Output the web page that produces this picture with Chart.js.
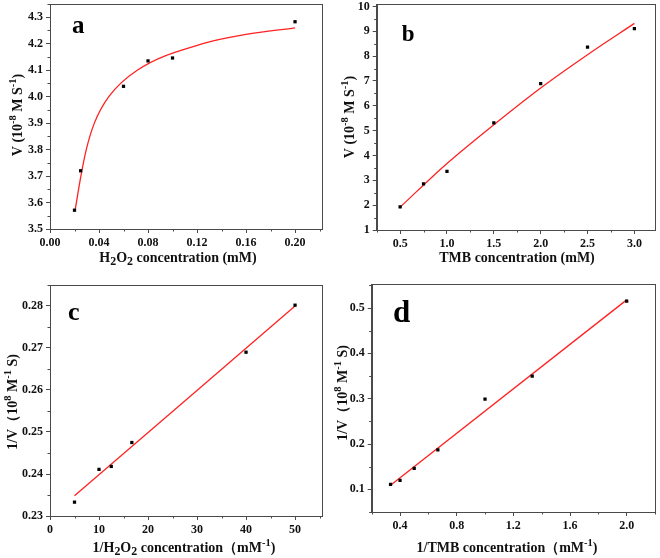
<!DOCTYPE html>
<html>
<head>
<meta charset="utf-8">
<script src="https://cdn.jsdelivr.net/npm/chart.js@4.4.1/dist/chart.umd.min.js"></script>
<style>
  body { margin: 0; background: #fff; }
  #fig { position: relative; width: 660px; height: 558px; }
  canvas { position: absolute; }
</style>
</head>
<body>
<div id="fig">
  <canvas id="pa" width="330" height="280" style="left:0;top:0"></canvas>
  <canvas id="pb" width="330" height="280" style="left:330px;top:0"></canvas>
  <canvas id="pc" width="330" height="278" style="left:0;top:280px"></canvas>
  <canvas id="pd" width="330" height="278" style="left:330px;top:280px"></canvas>
</div>
<script>
// a: rate vs H2O2
const aX = [ 0.02, 0.025, 0.06, 0.08, 0.10, 0.20 ]
const aV = [ 3.571, 3.72, 4.039, 4.135, 4.146, 4.283 ]
const aFitX = [ 0.0205, 0.0252, 0.0296, 0.0362, 0.048, 0.0712, 0.1247, 0.16, 0.20 ]
const aFitV = [ 3.571, 3.70, 3.80, 3.90, 4.00, 4.10, 4.20, 4.235, 4.26 ]
const aXLabels = [ '0.00', '0.04', '0.08', '0.12', '0.16', '0.20' ]
const aYLabels = [ '3.5', '3.6', '3.7', '3.8', '3.9', '4.0', '4.1', '4.2', '4.3' ]

// b: rate vs TMB
const bX = [ 0.5, 0.75, 1.0, 1.5, 2.0, 2.5, 3.0 ]
const bV = [ 1.93, 2.86, 3.36, 5.31, 6.89, 8.36, 9.11 ]
const bFitX = [ 0.5, 1.0, 1.5, 2.0, 2.5, 3.0 ]
const bFitV = [ 1.92, 3.68, 5.24, 6.72, 8.06, 9.32 ]
const bXLabels = [ '0.5', '1.0', '1.5', '2.0', '2.5', '3.0' ]
const bYLabels = [ '1', '2', '3', '4', '5', '6', '7', '8', '9', '10' ]

// c: double reciprocal H2O2
const cX = [ 5, 10, 12.5, 16.7, 40, 50 ]
const cV = [ 0.2333, 0.2411, 0.2418, 0.2475, 0.269, 0.2802 ]
const cFitX = [ 5, 50 ]
const cFitV = [ 0.2348, 0.2800 ]
const cXLabels = [ '0', '10', '20', '30', '40', '50' ]
const cYLabels = [ '0.23', '0.24', '0.25', '0.26', '0.27', '0.28' ]

// d: double reciprocal TMB
const dX = [ 0.333, 0.4, 0.5, 0.667, 1.0, 1.333, 2.0 ]
const dV = [ 0.111, 0.120, 0.146, 0.187, 0.299, 0.350, 0.515 ]
const dFitX = [ 0.333, 2.0 ]
const dFitV = [ 0.109, 0.518 ]
const dXLabels = [ '0.4', '0.8', '1.2', '1.6', '2.0' ]
const dYLabels = [ '0.1', '0.2', '0.3', '0.4', '0.5' ]

const axisColor = '#4a4a4a'
const serif = '"Liberation Serif", "Times New Roman", serif'

const panels = {
  pa: {
    letter: 'a', letterPos: [ 72, 32.5 ], letterSize: 25,
    box: { left: 50, top: 3, right: 322, bottom: 229 },
    xRange: [ 0, 0.222 ], yRange: [ 3.5, 4.35 ], xMinor: 0.02, yMinor: 0.05,
    xTitle: [ [ 'H', 'n' ], [ '2', 'sub' ], [ 'O', 'n' ], [ '2', 'sub' ], [ ' concentration (mM)', 'n' ] ],
    yTitle: [ [ 'V (10', 'n' ], [ '-8', 'sup' ], [ ' M S', 'n' ], [ '-1', 'sup' ], [ ')', 'n' ] ],
    xTitlePos: [ 178, 257 ], yTitlePos: [ 17, 115 ]
  },
  pb: {
    letter: 'b', letterPos: [ 71.7, 40.7 ], letterSize: 23,
    box: { left: 46.7, top: 2, right: 325, bottom: 230 },
    xRange: [ 0.25, 3.22 ], yRange: [ 1, 10.1 ], xMinor: 0.25, yMinor: 0.5,
    xTitle: [ [ 'TMB concentration (mM)', 'n' ] ],
    yTitle: [ [ 'V (10', 'n' ], [ '-8', 'sup' ], [ ' M S', 'n' ], [ '-1', 'sup' ], [ ')', 'n' ] ],
    xTitlePos: [ 187, 257 ], yTitlePos: [ 19, 117 ]
  },
  pc: {
    letter: 'c', letterPos: [ 68, 40 ], letterSize: 26,
    box: { left: 50, top: 5, right: 322, bottom: 236 },
    xRange: [ 0, 55.5 ], yRange: [ 0.23, 0.285 ], xMinor: 5, yMinor: 0.005,
    xTitle: [ [ '1/H', 'n' ], [ '2', 'sub' ], [ 'O', 'n' ], [ '2', 'sub' ], [ ' concentration\uFF08mM', 'n' ], [ '-1', 'sup' ], [ ')', 'n' ] ],
    yTitle: [ [ '1/V\uFF0810', 'n' ], [ '8', 'sup' ], [ ' M', 'n' ], [ '-1', 'sup' ], [ ' S)', 'n' ] ],
    xTitlePos: [ 184, 267 ], yTitlePos: [ 12, 122 ]
  },
  pd: {
    letter: 'd', letterPos: [ 63, 41.7 ], letterSize: 31,
    box: { left: 41.7, top: 4, right: 325, bottom: 232 },
    xRange: [ 0.2, 2.2 ], yRange: [ 0.05, 0.553 ], xMinor: 0.2, yMinor: 0.05,
    xTitle: [ [ '1/TMB concentration\uFF08mM', 'n' ], [ '-1', 'sup' ], [ ')', 'n' ] ],
    yTitle: [ [ '1/V\uFF0810', 'n' ], [ '8', 'sup' ], [ ' M', 'n' ], [ '-1', 'sup' ], [ ' S)', 'n' ] ],
    xTitlePos: [ 177, 267 ], yTitlePos: [ 12, 113 ]
  }
}

function drawRich(ctx, parts, cx, cy, size, angle) {
  ctx.save()
  ctx.translate(cx, cy)
  ctx.rotate(angle)
  const sized = parts.map(([ t, k ]) => {
    const s = k === 'n' ? size : k === 'sub' ? size * 0.85 : size * 0.75
    ctx.font = `bold ${s}px ${serif}`
    return { t, k, s, w: ctx.measureText(t).width }
  })
  const total = sized.reduce((sum, q) => sum + q.w, 0)
  let x = -total / 2
  ctx.fillStyle = '#111'
  ctx.textBaseline = 'alphabetic'
  ctx.textAlign = 'left'
  sized.forEach(q => {
    ctx.font = `bold ${q.s}px ${serif}`
    const dy = q.k === 'sup' ? -size * 0.42 : q.k === 'sub' ? size * 0.2 : 0
    ctx.fillText(q.t, x, size * 0.35 + dy)
    x += q.w
  })
  ctx.restore()
}

function minorValues(min, max, step, majors) {
  const out = []
  for (let i = Math.ceil(min / step - 1e-6); i * step <= max + 1e-9; i++) {
    const v = i * step
    if (!majors.some(m => Math.abs(m - v) < step * 0.01)) out.push(v)
  }
  return out
}

const panelDeco = {
  id: 'panelDeco',
  afterDraw(chart) {
    const p = panels[chart.canvas.id]
    const { ctx, chartArea: a, scales: { x, y } } = chart
    ctx.save()
    ctx.strokeStyle = axisColor
    ctx.lineWidth = 1
    ctx.strokeRect(Math.round(a.left) + 0.5, Math.round(a.top) + 0.5,
      Math.round(a.right - a.left), Math.round(a.bottom - a.top))
    // minor ticks
    ctx.beginPath()
    minorValues(x.min, x.max, p.xMinor, p.xLabels.map(Number)).forEach(v => {
      const px = Math.round(x.getPixelForValue(v)) + 0.5
      ctx.moveTo(px, a.bottom)
      ctx.lineTo(px, a.bottom + 2.5)
    })
    minorValues(y.min, y.max, p.yMinor, p.yLabels.map(Number)).forEach(v => {
      const py = Math.round(y.getPixelForValue(v)) + 0.5
      ctx.moveTo(a.left, py)
      ctx.lineTo(a.left - 2.5, py)
    })
    ctx.stroke()
    ctx.restore()

    ctx.save()
    ctx.fillStyle = '#000'
    ctx.font = `bold ${p.letterSize}px ${serif}`
    ctx.textBaseline = 'alphabetic'
    ctx.fillText(p.letter, p.letterPos[0], p.letterPos[1])
    ctx.restore()

    drawRich(ctx, p.xTitle, p.xTitlePos[0], p.xTitlePos[1], 14, 0)
    drawRich(ctx, p.yTitle, p.yTitlePos[0], p.yTitlePos[1], 14, -Math.PI / 2)
  }
}

function makePanel(id, xs, vs, fitX, fitV, xLabels, yLabels) {
  const p = panels[id]
  p.xLabels = xLabels
  p.yLabels = yLabels
  const canvas = document.getElementById(id)
  const W = canvas.width
  const H = canvas.height
  const tickFont = { family: serif, size: 12, weight: 'bold' }
  return new Chart(canvas, {
    type: 'scatter',
    plugins: [ panelDeco ],
    data: {
      datasets: [
        {
          data: fitX.map((v, i) => ({ x: v, y: fitV[i] })),
          showLine: true,
          borderColor: '#ff2222',
          borderWidth: 1.3,
          pointRadius: 0,
          cubicInterpolationMode: 'monotone',
          order: 2
        },
        {
          data: xs.map((v, i) => ({ x: v, y: vs[i] })),
          pointStyle: 'rect',
          pointRadius: 2.3,
          backgroundColor: '#000',
          borderWidth: 0,
          order: 1
        }
      ]
    },
    options: {
      responsive: false,
      animation: false,
      layout: { padding: { left: 0, top: p.box.top, right: W - p.box.right, bottom: 0 } },
      plugins: { legend: { display: false }, tooltip: { enabled: false } },
      scales: {
        x: {
          type: 'linear',
          min: p.xRange[0],
          max: p.xRange[1],
          afterBuildTicks: s => { s.ticks = xLabels.map(v => ({ value: Number(v) })) },
          afterFit: s => {
            s.height = H - p.box.bottom
            s.paddingLeft = 0; s.paddingRight = 0; s.paddingTop = 0; s.paddingBottom = 0
          },
          ticks: {
            callback: (v, i) => xLabels[i],
            font: tickFont, color: '#111', padding: 3, maxRotation: 0, autoSkip: false
          },
          grid: { drawOnChartArea: false, tickLength: 4, color: axisColor },
          border: { color: axisColor }
        },
        y: {
          type: 'linear',
          min: p.yRange[0],
          max: p.yRange[1],
          afterBuildTicks: s => { s.ticks = yLabels.map(v => ({ value: Number(v) })) },
          afterFit: s => {
            s.width = p.box.left
            s.paddingLeft = 0; s.paddingRight = 0; s.paddingTop = 0; s.paddingBottom = 0
          },
          ticks: {
            callback: (v, i) => yLabels[i],
            font: tickFont, color: '#111', padding: 3, autoSkip: false
          },
          grid: { drawOnChartArea: false, tickLength: 4, color: axisColor },
          border: { color: axisColor }
        }
      }
    }
  })
}

makePanel('pa', aX, aV, aFitX, aFitV, aXLabels, aYLabels)
makePanel('pb', bX, bV, bFitX, bFitV, bXLabels, bYLabels)
makePanel('pc', cX, cV, cFitX, cFitV, cXLabels, cYLabels)
makePanel('pd', dX, dV, dFitX, dFitV, dXLabels, dYLabels)
</script>
</body>
</html>
